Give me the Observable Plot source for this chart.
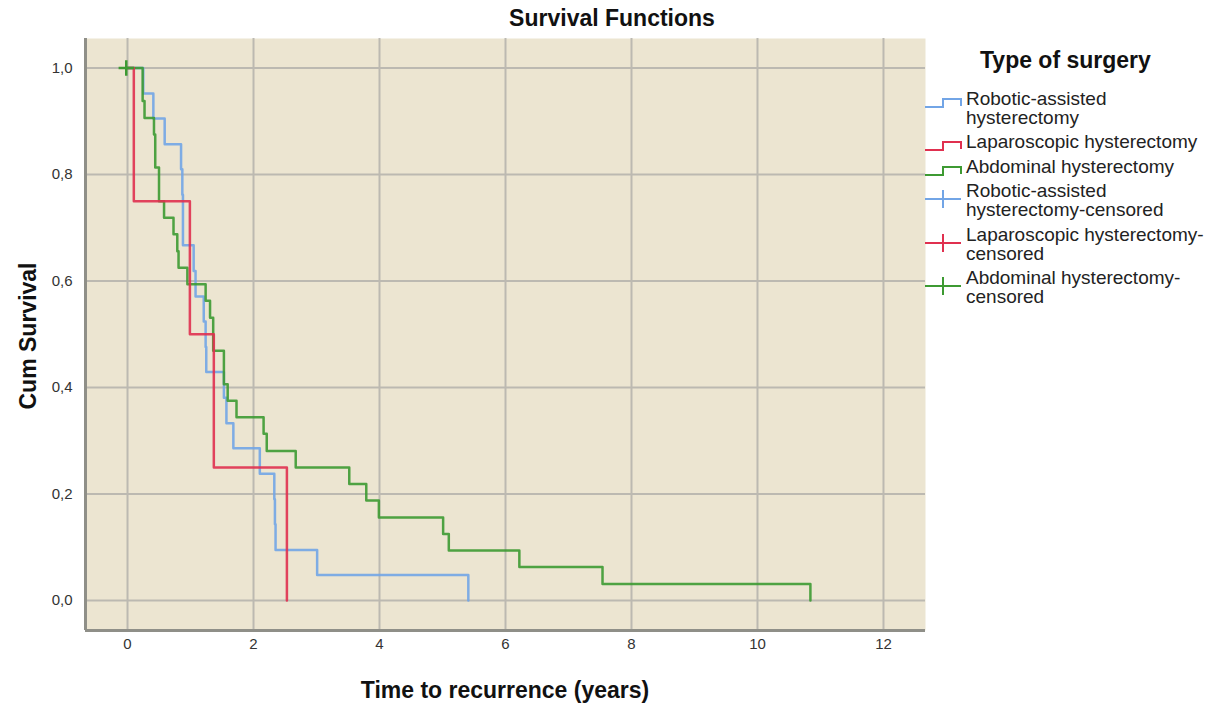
<!DOCTYPE html>
<html>
<head>
<meta charset="utf-8">
<script src="https://cdn.jsdelivr.net/npm/d3@7"></script>
<script src="https://cdn.jsdelivr.net/npm/@observablehq/plot@0.6"></script>
<style>
  body { margin: 0; background: #fff; font-family: "Liberation Sans", Arial, sans-serif; }
  #wrap { position: relative; width: 1215px; height: 704px; }
  .lbl { position: absolute; font-weight: bold; color: #111; white-space: nowrap; }
  #legend { position: absolute; left: 922px; top: 44px; width: 290px; }
  .item { position: absolute; left: 0; }
  .item svg { position: absolute; left: 0; top: 0; }
  .item .txt { position: absolute; left: 44px; font-size: 19px; line-height: 19px; color: #222; white-space: nowrap; }
</style>
</head>
<body>
<div id="wrap">
  <div id="chart"></div>
  <div class="lbl" id="title" style="left:0;width:1224px;text-align:center;top:5px;font-size:23px;">Survival Functions</div>
  <div class="lbl" id="ylab" style="left:28px;top:336px;font-size:23px;transform:translate(-50%,-50%) rotate(-90deg);">Cum Survival</div>
  <div class="lbl" id="xlab" style="left:505px;top:690px;font-size:23px;transform:translate(-50%,-50%);">Time to recurrence (years)</div>
  <div id="legend"></div>
</div>
<script>
// ---- data ----
const groups = ["Robotic-assisted hysterectomy", "Laparoscopic hysterectomy", "Abdominal hysterectomy"];
const colors = ["#72a5e6", "#e0304f", "#3d9a32"];

const roboticTime = [0.25, 0.41, 0.59, 0.85, 0.87, 0.88, 1.05, 1.08, 1.21, 1.24, 1.25, 1.53, 1.57, 1.68, 2.10, 2.33, 2.34, 2.35, 3.01, 5.41];
const roboticSurv = [0.952, 0.905, 0.857, 0.810, 0.762, 0.667, 0.619, 0.571, 0.524, 0.476, 0.429, 0.381, 0.333, 0.286, 0.238, 0.190, 0.143, 0.095, 0.048, 0];

const laparoTime = [0.10, 0.99, 1.37, 2.53];
const laparoSurv = [0.75, 0.50, 0.25, 0];

const abdomTime = [0.24, 0.27, 0.42, 0.44, 0.50, 0.58, 0.73, 0.79, 0.81, 0.95, 1.24, 1.31, 1.36, 1.53, 1.59, 1.73, 2.16, 2.21, 2.67, 3.52, 3.79, 3.99, 5.01, 5.10, 6.22, 7.54, 10.84];
const abdomSurv = [0.938, 0.906, 0.875, 0.813, 0.750, 0.719, 0.688, 0.656, 0.625, 0.594, 0.563, 0.531, 0.469, 0.406, 0.375, 0.344, 0.313, 0.281, 0.250, 0.219, 0.188, 0.156, 0.125, 0.094, 0.063, 0.031, 0];

// censored observations
const censorGroup = ["Abdominal hysterectomy"];
const censorTime = [-0.02];
const censorSurv = [1.0];

const xTicks = [0, 2, 4, 6, 8, 10, 12];
const yTicks = [0, 0.2, 0.4, 0.6, 0.8, 1.0];
const xDomain = [-0.667, 12.667];
const yDomain = [-0.0563, 1.0554];

// ---- build tables ----
function series(name, times, surv) {
  return [{group: name, t: 0, s: 1}].concat(times.map((t, i) => ({group: name, t, s: surv[i]})));
}
const lines = [
  ...series(groups[0], roboticTime, roboticSurv),
  ...series(groups[2], abdomTime, abdomSurv),
  ...series(groups[1], laparoTime, laparoSurv)
];
const censored = censorTime.map((t, i) => ({group: censorGroup[i], t, s: censorSurv[i]}));

const chart = Plot.plot({
  width: 1215,
  height: 704,
  marginLeft: 85,
  marginRight: 290,
  marginTop: 38,
  marginBottom: 74,
  style: {fontFamily: "'Liberation Sans', Arial, sans-serif", fontSize: "15px", color: "#333", background: "transparent"},
  x: {domain: xDomain},
  y: {domain: yDomain},
  color: {domain: groups, range: colors},
  marks: [
    Plot.frame({fill: "#ece5d1", stroke: "none"}),
    Plot.gridX(xTicks, {stroke: "#bcb9b1", strokeOpacity: 1, strokeWidth: 2}),
    Plot.gridY(yTicks, {stroke: "#bcb9b1", strokeOpacity: 1, strokeWidth: 2}),
    Plot.ruleX([xDomain[0]], {stroke: "#8f8f88", strokeWidth: 3}),
    Plot.ruleY([yDomain[0]], {stroke: "#8f8f88", strokeWidth: 3}),
    Plot.axisX({ticks: xTicks, tickSize: 0, tickPadding: 8, label: null, fontSize: 15}),
    Plot.axisY({ticks: yTicks, tickSize: 0, tickPadding: 13, label: null, fontSize: 15,
                tickFormat: d => d.toFixed(1).replace(".", ",")}),
    Plot.line(lines, {x: "t", y: "s", z: "group", stroke: "group", curve: "step-after", strokeWidth: 2.5, strokeOpacity: 0.9}),
    Plot.dot(censored, {x: "t", y: "s", stroke: "group", symbol: "plus", r: 5, strokeWidth: 2.5})
  ]
});
document.getElementById("chart").appendChild(chart);

// ---- legend ----
const legend = document.getElementById("legend");
const tl = document.createElement("div");
tl.className = "lbl";
tl.style.cssText = "left:58px;top:3px;font-size:23px;";
tl.textContent = "Type of surgery";
legend.appendChild(tl);

const legendItems = [
  {lines: ["Robotic-assisted", "hysterectomy"], color: colors[0], kind: "step", top: 45},
  {lines: ["Laparoscopic hysterectomy"], color: colors[1], kind: "step", top: 88},
  {lines: ["Abdominal hysterectomy"], color: colors[2], kind: "step", top: 113},
  {lines: ["Robotic-assisted", "hysterectomy-censored"], color: colors[0], kind: "cens", top: 137},
  {lines: ["Laparoscopic hysterectomy-", "censored"], color: colors[1], kind: "cens", top: 181},
  {lines: ["Abdominal hysterectomy-", "censored"], color: colors[2], kind: "cens", top: 224}
];
legendItems.forEach(it => {
  const d = document.createElement("div");
  d.className = "item";
  d.style.top = it.top + "px";
  const icon = it.kind === "step"
    ? `<svg width="42" height="22" style="top:0"><path d="M3,18 H21 V10 H39 V17" fill="none" stroke="${it.color}" stroke-width="2"/></svg>`
    : `<svg width="42" height="24" style="top:6px"><path d="M3,12 H39 M21,3 V21" fill="none" stroke="${it.color}" stroke-width="2"/></svg>`;
  const txt = it.lines.map((l, i) => `<div class="txt" style="top:${i * 19}px">${l}</div>`).join("");
  d.innerHTML = icon + txt;
  legend.appendChild(d);
});
</script>
</body>
</html>
